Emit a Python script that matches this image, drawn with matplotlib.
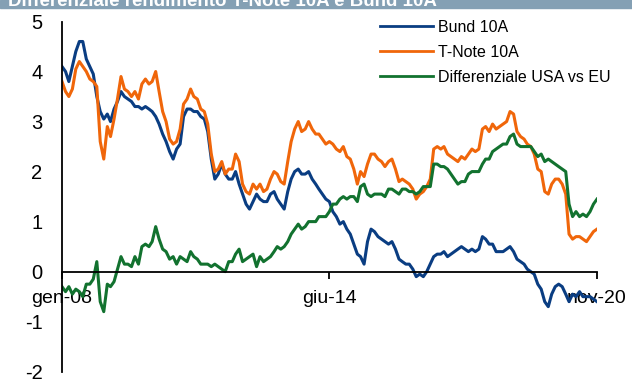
import matplotlib
matplotlib.use("Agg")
import matplotlib.pyplot as plt
from matplotlib.patches import Rectangle
import pandas as pd

plt.rcParams['font.family'] = ['Liberation Sans', 'DejaVu Sans']
plt.rcParams['axes.unicode_minus'] = False

# monthly readings, gen-08 .. nov-20
dates = pd.date_range("2008-01-01", "2020-11-01", freq="MS")

bund = [4.1, 4.0, 3.8, 4.1, 4.4, 4.6, 4.6, 4.25, 4.1, 3.95, 3.5, 3.2,
        3.05, 3.15, 3.0, 3.25, 3.4, 3.6, 3.5, 3.45, 3.4, 3.3, 3.3, 3.25,
        3.3, 3.25, 3.2, 3.1, 2.95, 2.75, 2.6, 2.4, 2.25, 2.45, 2.55, 3.1,
        3.25, 3.25, 3.2, 3.2, 3.1, 3.05, 2.8, 2.25, 1.85, 1.95, 2.15, 1.95,
        1.85, 1.85, 2.0, 1.75, 1.55, 1.35, 1.25, 1.4, 1.55, 1.45, 1.4, 1.4,
        1.55, 1.6, 1.45, 1.35, 1.25, 1.6, 1.85, 2.0, 2.05, 1.95, 1.95, 2.0,
        1.85, 1.75, 1.65, 1.55, 1.45, 1.4, 1.2, 1.1, 0.95, 1.0, 0.85, 0.75,
        0.55, 0.35, 0.3, 0.15, 0.6, 0.85, 0.8, 0.7, 0.65, 0.6, 0.55, 0.6,
        0.45, 0.25, 0.2, 0.15, 0.15, 0.05, -0.1, -0.05, -0.1, 0.0, 0.15, 0.3,
        0.35, 0.35, 0.4, 0.3, 0.35, 0.4, 0.45, 0.5, 0.45, 0.4, 0.45, 0.4,
        0.45, 0.7, 0.65, 0.55, 0.55, 0.4, 0.4, 0.4, 0.45, 0.5, 0.4, 0.25,
        0.2, 0.15, 0.05, 0.0, -0.05, -0.25, -0.35, -0.6, -0.7, -0.45, -0.3, -0.25,
        -0.3, -0.45, -0.6, -0.45, -0.5, -0.4, -0.5, -0.5, -0.5, -0.55, -0.6]

tnote = [3.8, 3.6, 3.5, 3.65, 4.05, 4.2, 4.1, 4.0, 3.85, 3.8, 3.7, 2.6,
         2.25, 2.9, 2.7, 3.05, 3.45, 3.9, 3.65, 3.6, 3.5, 3.6, 3.45, 3.75,
         3.85, 3.75, 3.8, 4.0, 3.6, 3.2, 3.0, 2.65, 2.55, 2.6, 2.85, 3.35,
         3.45, 3.65, 3.5, 3.45, 3.25, 3.2, 2.95, 2.35, 2.0, 2.05, 2.2, 1.95,
         2.05, 2.05, 2.35, 2.2, 1.75, 1.6, 1.55, 1.75, 1.65, 1.75, 1.6, 1.65,
         1.85, 2.0, 1.95, 1.8, 1.75, 2.2, 2.6, 2.85, 3.0, 2.8, 2.85, 3.0,
         2.85, 2.75, 2.75, 2.65, 2.55, 2.6, 2.55, 2.45, 2.4, 2.5, 2.3, 2.25,
         2.05, 1.75, 2.0, 1.9, 2.15, 2.35, 2.35, 2.25, 2.2, 2.1, 2.2, 2.25,
         2.05, 1.8, 1.85, 1.8, 1.75, 1.65, 1.45, 1.55, 1.6, 1.7, 1.85, 2.45,
         2.5, 2.45, 2.5, 2.35, 2.3, 2.25, 2.2, 2.3, 2.25, 2.35, 2.45, 2.4,
         2.45, 2.85, 2.9, 2.8, 2.95, 2.85, 2.9, 2.95, 3.0, 3.2, 3.15, 2.8,
         2.7, 2.65, 2.55, 2.5, 2.35, 2.05, 2.0, 1.6, 1.55, 1.75, 1.85, 1.85,
         1.75, 1.55, 0.75, 0.65, 0.7, 0.7, 0.65, 0.6, 0.7, 0.8, 0.85]

spread = [-0.3, -0.4, -0.3, -0.45, -0.35, -0.4, -0.5, -0.25, -0.25, -0.15, 0.2, -0.6,
          -0.8, -0.25, -0.3, -0.2, 0.05, 0.3, 0.15, 0.15, 0.1, 0.3, 0.15, 0.5,
          0.55, 0.5, 0.6, 0.9, 0.65, 0.45, 0.4, 0.25, 0.3, 0.15, 0.3, 0.25,
          0.2, 0.4, 0.3, 0.25, 0.15, 0.15, 0.15, 0.1, 0.15, 0.1, 0.05, 0.0,
          0.2, 0.2, 0.35, 0.45, 0.2, 0.25, 0.3, 0.35, 0.1, 0.3, 0.2, 0.25,
          0.3, 0.4, 0.5, 0.45, 0.5, 0.6, 0.75, 0.85, 0.95, 0.85, 0.9, 1.0,
          1.0, 1.0, 1.1, 1.1, 1.1, 1.2, 1.35, 1.35, 1.45, 1.5, 1.45, 1.5,
          1.5, 1.4, 1.7, 1.75, 1.55, 1.5, 1.55, 1.55, 1.55, 1.5, 1.65, 1.65,
          1.6, 1.55, 1.65, 1.65, 1.6, 1.6, 1.55, 1.6, 1.7, 1.7, 1.7, 2.15,
          2.15, 2.1, 2.1, 2.05, 1.95, 1.85, 1.75, 1.8, 1.8, 1.95, 2.0, 2.0,
          2.0, 2.15, 2.25, 2.25, 2.4, 2.45, 2.5, 2.55, 2.55, 2.7, 2.75, 2.55,
          2.5, 2.5, 2.5, 2.5, 2.4, 2.3, 2.35, 2.2, 2.25, 2.2, 2.15, 2.1,
          2.05, 2.0, 1.35, 1.1, 1.2, 1.1, 1.15, 1.1, 1.2, 1.35, 1.45]

tick_dates = pd.to_datetime(["2008-01-01", "2014-06-01", "2020-11-01"])
tick_labels = ["gen-08", "giu-14", "nov-20"]
title = "Differenziale rendimento T-Note 10A e Bund 10A"

fig = plt.figure(figsize=(6.32, 3.81), dpi=100)
ax = fig.add_axes([62 / 632, 1 - 371.7 / 381, 535 / 632, 350.2 / 381])

ax.plot(dates, bund, color="#0a3d82", lw=2.2, label="Bund 10A")
ax.plot(dates, tnote, color="#f0660a", lw=2.2, label="T-Note 10A")
ax.plot(dates, spread, color="#12722f", lw=2.2, label="Differenziale USA vs EU")

ax.set_xlim(tick_dates[0], tick_dates[-1])
ax.set_ylim(-2, 5)
ax.set_yticks(range(-2, 6))
ax.set_xticks(tick_dates)
ax.set_xticklabels(tick_labels)

for s in ["top", "right"]:
    ax.spines[s].set_visible(False)
ax.spines["bottom"].set_position(("data", 0))
ax.spines["left"].set_linewidth(1.3)
ax.spines["bottom"].set_linewidth(1.3)
ax.tick_params(axis="y", length=0, pad=14, labelsize=14.5)
ax.tick_params(axis="x", direction="out", length=5, width=1.3, pad=8, labelsize=14)

leg = fig.legend(loc="upper left", bbox_to_anchor=(380 / 632, 1 - 20 / 381),
                 bbox_transform=fig.transFigure, frameon=False, fontsize=11.5,
                 handlelength=3.3, handletextpad=0.35, labelspacing=0.62,
                 borderpad=0, borderaxespad=0)
for h in leg.get_lines():
    h.set_linewidth(2)

fig.patches.append(Rectangle((0, 1 - 8 / 381), 1, 8 / 381, transform=fig.transFigure,
                             color="#84a0b4", zorder=0))
fig.text(8 / 632, 1 - 6 / 381, title, color="white", fontweight="bold",
         fontsize=13.5, va="baseline", ha="left")

fig.savefig("out.png", dpi=100)
